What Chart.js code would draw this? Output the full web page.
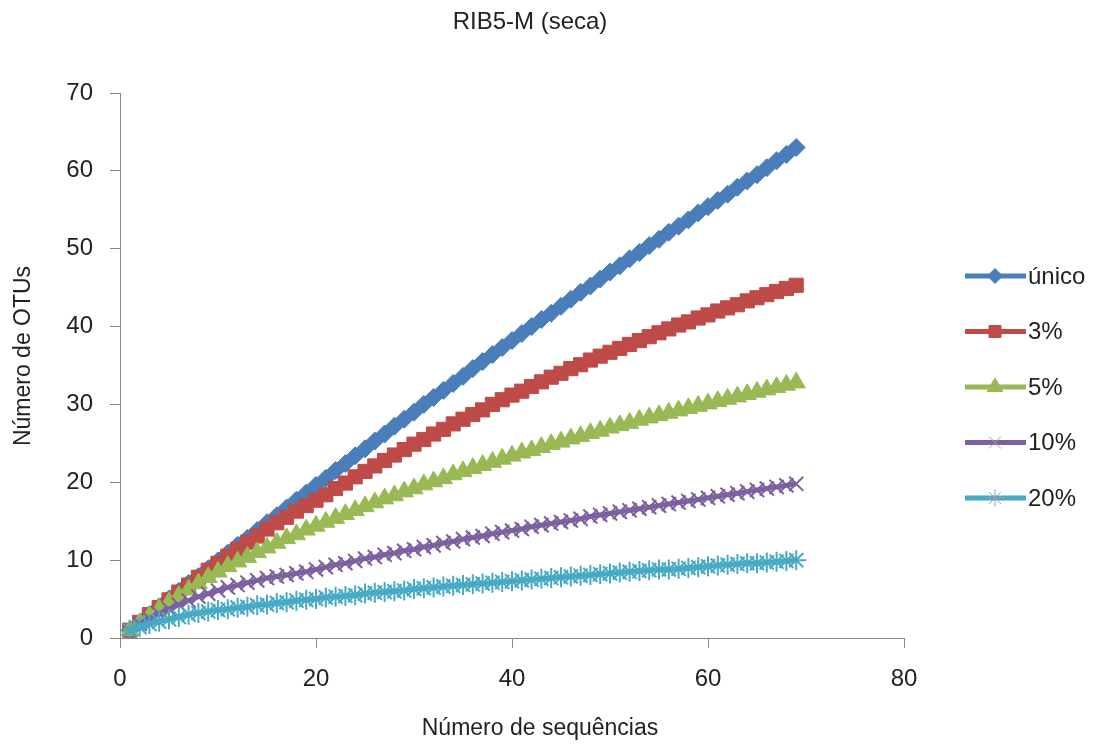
<!DOCTYPE html>
<html>
<head>
<meta charset="utf-8">
<script src="https://cdn.jsdelivr.net/npm/chart.js@4.4.1/dist/chart.umd.min.js"></script>
<style>
  html, body { margin: 0; padding: 0; background: #fff; }
  #wrap { width: 1104px; height: 745px; }
</style>
</head>
<body>
<div id="wrap"><canvas id="rarefacao" width="1104" height="745"></canvas></div>
<script>
// numero de sequencias amostradas
var sequencias = [1, 2, 3, 4, 5, 6, 7, 8, 9, 10, 11, 12, 13, 14, 15, 16, 17, 18, 19, 20,
    21, 22, 23, 24, 25, 26, 27, 28, 29, 30, 31, 32, 33, 34, 35, 36, 37, 38, 39, 40,
    41, 42, 43, 44, 45, 46, 47, 48, 49, 50, 51, 52, 53, 54, 55, 56, 57, 58, 59, 60,
    61, 62, 63, 64, 65, 66, 67, 68, 69];

var unico = [1, 2, 3, 4, 5, 6, 7, 7.9, 8.9, 9.9, 10.9, 11.9, 12.8, 13.8, 14.8, 15.7, 16.7, 17.7, 18.6, 19.6,
    20.5, 21.5, 22.4, 23.4, 24.3, 25.3, 26.2, 27.2, 28.1, 29.0, 30.0, 30.9, 31.8, 32.7, 33.6, 34.6, 35.5, 36.4, 37.3, 38.2,
    39.1, 40.0, 40.9, 41.7, 42.6, 43.5, 44.4, 45.2, 46.1, 47.0, 47.8, 48.7, 49.5, 50.4, 51.2, 52.1, 52.9, 53.7, 54.6, 55.4,
    56.2, 57.0, 57.9, 58.7, 59.5, 60.4, 61.3, 62.1, 63.0];

var corte3 = [1, 2, 3, 3.9, 4.9, 5.9, 6.8, 7.8, 8.7, 9.6, 10.5, 11.4, 12.3, 13.1, 14.0, 14.8, 15.5, 16.3, 17.0, 17.7,
    18.4, 19.2, 19.9, 20.7, 21.4, 22.1, 22.8, 23.5, 24.2, 24.9, 25.5, 26.2, 26.8, 27.5, 28.1, 28.7, 29.3, 30.0, 30.6, 31.2,
    31.7, 32.3, 32.9, 33.5, 34.0, 34.6, 35.1, 35.7, 36.2, 36.7, 37.2, 37.7, 38.2, 38.7, 39.2, 39.7, 40.2, 40.6, 41.1, 41.5,
    42.0, 42.4, 42.8, 43.3, 43.7, 44.1, 44.5, 44.9, 45.3];

var corte5 = [1, 1.9, 2.8, 3.7, 4.6, 5.4, 6.2, 7.0, 7.8, 8.5, 9.2, 9.8, 10.4, 11.0, 11.6, 12.2, 12.8, 13.3, 13.9, 14.4,
    14.9, 15.4, 15.9, 16.4, 16.9, 17.4, 17.9, 18.3, 18.8, 19.2, 19.7, 20.1, 20.5, 21.0, 21.4, 21.8, 22.2, 22.6, 23.0, 23.4,
    23.8, 24.1, 24.5, 24.9, 25.2, 25.6, 25.9, 26.3, 26.6, 27.0, 27.3, 27.6, 28.0, 28.3, 28.6, 28.9, 29.2, 29.5, 29.8, 30.1,
    30.4, 30.7, 31.0, 31.3, 31.6, 31.9, 32.2, 32.5, 32.8];

var corte10 = [1, 1.8, 2.5, 3.1, 3.7, 4.3, 4.8, 5.3, 5.7, 6.1, 6.5, 6.8, 7.1, 7.4, 7.7, 7.9, 8.1, 8.3, 8.5, 8.8,
    9.1, 9.4, 9.6, 9.9, 10.2, 10.4, 10.7, 10.9, 11.2, 11.4, 11.7, 11.9, 12.2, 12.4, 12.7, 12.9, 13.1, 13.4, 13.6, 13.8,
    14.0, 14.3, 14.5, 14.7, 14.9, 15.1, 15.3, 15.6, 15.8, 16.0, 16.2, 16.4, 16.6, 16.8, 17.0, 17.2, 17.4, 17.6, 17.8, 18.0,
    18.2, 18.4, 18.6, 18.8, 19.0, 19.2, 19.4, 19.6, 19.8];

var corte20 = [1, 1.4, 1.8, 2.1, 2.4, 2.7, 3.0, 3.2, 3.4, 3.6, 3.7, 3.9, 4.0, 4.2, 4.3, 4.5, 4.6, 4.8, 4.9, 5.0,
    5.2, 5.3, 5.4, 5.5, 5.7, 5.8, 5.9, 6.0, 6.1, 6.3, 6.4, 6.5, 6.6, 6.7, 6.8, 6.9, 7.0, 7.1, 7.2, 7.3,
    7.4, 7.5, 7.6, 7.7, 7.8, 7.9, 8.0, 8.1, 8.2, 8.3, 8.4, 8.5, 8.6, 8.7, 8.8, 8.8, 8.9, 9.0, 9.1, 9.2,
    9.3, 9.4, 9.5, 9.6, 9.6, 9.7, 9.8, 9.9, 10.0];

var nomes = ['único', '3%', '5%', '10%', '20%'];
var valores = [unico, corte3, corte5, corte10, corte20];
var xTicks = [0, 20, 40, 60, 80];
var yTicks = [0, 10, 20, 30, 40, 50, 60, 70];

var cores = ['#4A7EBB', '#BE4B48', '#98B954', '#7D60A0', '#46AAC5'];
var marcadores = ['rectRot', 'rect', 'triangle', 'crossRot', 'star'];
var raios = [9, 10, 10.5, 10, 10];
var bordas = [1, 1, 1, 2, 2];

var fonte = "'Liberation Sans', Arial, sans-serif";

var datasets = nomes.map(function (nome, i) {
    return {
        label: nome,
        data: sequencias.map(function (s, j) { return { x: s, y: valores[i][j] }; }),
        borderColor: cores[i],
        backgroundColor: cores[i],
        borderWidth: 5,
        pointStyle: marcadores[i],
        pointRadius: raios[i],
        pointBorderWidth: bordas[i],
        pointBorderColor: cores[i],
        pointBackgroundColor: cores[i],
        tension: 0,
        order: nomes.length - i
    };
});

// titulo, nomes dos eixos e legenda desenhados a mao
var textos = {
    id: 'textos',
    afterDraw: function (chart) {
        var ctx = chart.ctx;
        ctx.save();
        ctx.fillStyle = '#222';
        ctx.textBaseline = 'middle';
        ctx.textAlign = 'center';
        ctx.font = '24px ' + fonte;
        ctx.fillText('RIB5-M (seca)', 530, 22);
        ctx.font = '23px ' + fonte;
        ctx.fillText('Número de sequências', 540, 729);
        ctx.save();
        ctx.translate(24, 356);
        ctx.rotate(-Math.PI / 2);
        ctx.fillText('Número de OTUs', 0, 0);
        ctx.restore();

        ctx.textAlign = 'left';
        ctx.font = '24px ' + fonte;
        chart.data.datasets.forEach(function (ds, i) {
            var y = 276 + i * 55.5;
            ctx.strokeStyle = ds.borderColor;
            ctx.lineWidth = 5;
            ctx.beginPath();
            ctx.moveTo(965, y);
            ctx.lineTo(1026, y);
            ctx.stroke();
            ctx.fillStyle = ds.pointBackgroundColor;
            ctx.strokeStyle = i >= 3 ? '#9a9ab0' : ds.pointBorderColor;
            ctx.lineWidth = i >= 3 ? 1 : ds.pointBorderWidth;
            Chart.helpers.drawPoint(ctx, {
                pointStyle: ds.pointStyle,
                radius: ds.pointRadius - 1.5,
                rotation: 0,
                borderWidth: ctx.lineWidth
            }, 995, y);
            ctx.fillStyle = '#222';
            ctx.fillText(ds.label, 1028, y + 1);
        });
        ctx.restore();
    }
};

var ctx = document.getElementById('rarefacao').getContext('2d');
var chart = new Chart(ctx, {
    type: 'line',
    data: { datasets: datasets },
    plugins: [textos],
    options: {
        responsive: false,
        animation: false,
        layout: { padding: { left: 0, top: 93, right: 200, bottom: 0 } },
        plugins: {
            legend: { display: false },
            title: { display: false },
            tooltip: { enabled: false }
        },
        scales: {
            x: {
                type: 'linear',
                min: 0,
                max: 80,
                afterFit: function (s) { s.height = 107; },
                afterBuildTicks: function (s) { s.ticks = xTicks.map(function (v) { return { value: v }; }); },
                grid: { drawOnChartArea: false, drawTicks: true, tickLength: 10, color: '#868686' },
                border: { color: '#868686', width: 1 },
                ticks: { padding: 17, color: '#222', font: { family: fonte, size: 24 }, maxRotation: 0 }
            },
            y: {
                min: 0,
                max: 70,
                afterFit: function (s) { s.width = 120; },
                afterBuildTicks: function (s) { s.ticks = yTicks.map(function (v) { return { value: v }; }); },
                grid: { drawOnChartArea: false, drawTicks: true, tickLength: 10, color: '#868686' },
                border: { color: '#868686', width: 1 },
                ticks: { padding: 17, color: '#222', font: { family: fonte, size: 24 } }
            }
        }
    }
});
</script>
</body>
</html>
